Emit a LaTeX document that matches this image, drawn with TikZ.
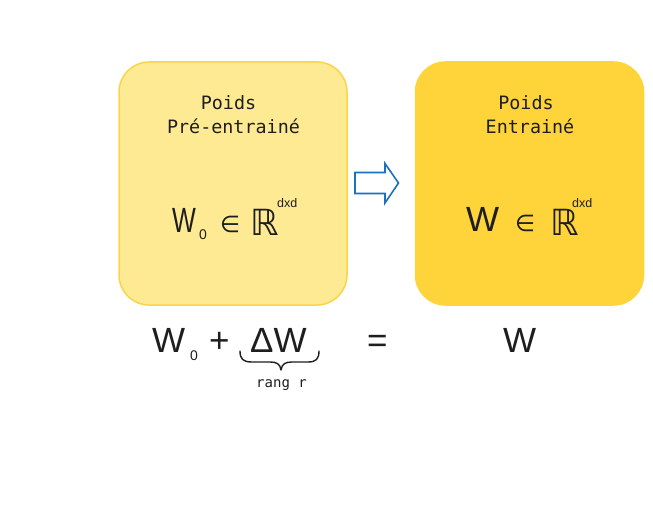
\documentclass[tikz,border=0pt]{standalone}
\usepackage{fontspec}
\setmainfont{Liberation Sans}
\newfontfamily\monof{DejaVu Sans Mono}
\newfontfamily\symf{DejaVu Sans}
\definecolor{lightY}{HTML}{FFEA94}
\definecolor{lightYb}{HTML}{FCD44A}
\definecolor{darkY}{HTML}{FFD43B}
\definecolor{ink}{HTML}{1E1E1E}
\definecolor{arrowblue}{HTML}{1971C2}
\tikzset{
  card/.style={rounded corners=30pt, line width=1.5pt, minimum width=228pt, minimum height=243pt, inner sep=0pt},
  lbl/.style={font=\monof\fontsize{18.4}{24}\selectfont, text=ink, align=center, inner sep=0pt, anchor=base},
  big/.style={font=\fontsize{35}{40}\selectfont, text=ink, inner sep=0pt, anchor=base west},
  sub/.style={font=\fontsize{14}{16}\selectfont, text=ink, inner sep=0pt, anchor=base west},
  small/.style={font=\fontsize{12.5}{14}\selectfont, text=ink, inner sep=0pt, anchor=base west},
  elem/.style={big, font=\symf\fontsize{23}{26}\selectfont},
  reals/.style={big, font=\symf\fontsize{36}{40}\selectfont},
}
\begin{document}
\begin{tikzpicture}[x=1pt,y=-1pt]
\useasboundingbox[fill=white] (0,0) rectangle (653,521);
% cards
\node[card, fill=lightY, draw=lightYb] (left) at (233,183.5) {};
\node[card, fill=darkY, draw=darkY] (right) at (529.5,183.5) {};
% labels
\node[lbl] (l1) at (228.5,110) {Poids};
\node[lbl] (l2) at (233.5,134) {Pré-entrainé};
\node[lbl] (r1) at (526,110) {Poids};
\node[lbl] (r2) at (530,134) {Entrainé};
% left formula
\node[big, xscale=0.72] (lw) at (172,233) {W};
\node[sub] (lw0) at (199,240) {0};
\node[elem] (lin) at (220,233) {∈};
\node[reals] (lr) at (250,236) {ℝ};
\node[small] (ld) at (277,208) {dxd};
% right formula
\node[big] (rw) at (466,232) {W};
\node[elem] (rin) at (515,232) {∈};
\node[reals] (rr) at (550,236) {ℝ};
\node[small] (rd) at (572,208) {dxd};
% block arrow
\draw[arrowblue, fill=white, line width=1.6pt, line join=miter]
  (355,172.5) -- (385,172.5) -- (385,163.5) -- (398.5,183) -- (385,203) -- (385,193.5) -- (355,193.5) -- cycle;
% bottom equation
\node[big] (bw) at (152,352) {W};
\node[sub] (bw0) at (190,360) {0};
\node[big] (plus) at (209,352) {+};
\node[big] (dw) at (250,352) {ΔW};
\node[big] (eq) at (367,352) {=};
\node[big] (bw2) at (503,352) {W};
\coordinate (bl) at (240,351);
\coordinate (bm) at (281,370);
\coordinate (br) at (319,351);
\draw[ink, line width=1.4pt, line cap=round, line join=round]
  (bl) .. controls (240,359) and (243,362) .. (252,362) -- (270,362)
  .. controls (277,362) and (280,364) .. (bm)
  .. controls (282,364) and (285,362) .. (292,362) -- (308,362)
  .. controls (316,362) and (319,359) .. (br);
\node[lbl, font=\monof\fontsize{14}{16}\selectfont] (rang) at (281.5,387) {rang r};
\end{tikzpicture}
\end{document}
